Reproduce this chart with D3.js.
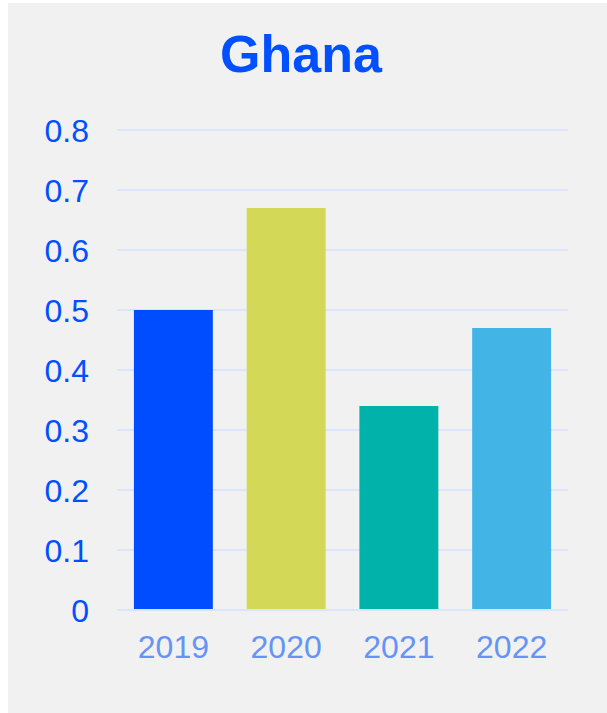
<!DOCTYPE html>
<html>
<head>
<meta charset="utf-8">
<script src="https://cdn.jsdelivr.net/npm/d3@7"></script>
<style>
  html, body { margin: 0; padding: 0; background: #ffffff; }
  svg { display: block; }
</style>
</head>
<body>
<script>
const title = "Ghana";
const categories = ["2019", "2020", "2021", "2022"];
const values = [0.5, 0.67, 0.34, 0.47];
const barColors = ["#004cff", "#d3d957", "#00b2aa", "#42b4e6"];
const yTicks = [0, 0.1, 0.2, 0.3, 0.4, 0.5, 0.6, 0.7, 0.8];

const W = 607, H = 713;
const svg = d3.select("body").append("svg").attr("width", W).attr("height", H);

svg.append("rect").attr("x", 8).attr("y", 3).attr("width", W - 8).attr("height", H - 3)
  .attr("fill", "#f1f1f1");

const x = d3.scaleBand().domain(categories).range([117, 568])
  .paddingInner(0.3).paddingOuter(0.15);
const y = d3.scaleLinear().domain([0, 0.8]).range([610, 130]);

svg.append("text").attr("x", 301).attr("y", 72).attr("text-anchor", "middle")
  .attr("font-family", "Liberation Sans, Arial, sans-serif")
  .attr("font-weight", "bold").attr("font-size", 52).attr("fill", "#0050ff")
  .text(title);

// gridlines
svg.append("g").selectAll("line").data(yTicks).join("line")
  .attr("x1", 117).attr("x2", 568)
  .attr("y1", d => y(d)).attr("y2", d => y(d))
  .attr("stroke", "#dbe5fa").attr("stroke-width", 2);

// y axis labels
const yAxis = d3.axisLeft(y).tickValues(yTicks).tickSize(0).tickPadding(0)
  .tickFormat(d => d === 0 ? "0" : d3.format(".1f")(d));
const gy = svg.append("g").attr("transform", "translate(89,0)").call(yAxis);
gy.select(".domain").remove();
gy.selectAll("text").attr("font-family", "Liberation Sans, Arial, sans-serif")
  .attr("font-size", 32).attr("fill", "#0050ff").attr("dy", "0.36em").attr("x", 0);

// bars
svg.append("g").selectAll("rect").data(categories).join("rect")
  .attr("x", d => x(d)).attr("width", x.bandwidth())
  .attr("y", (d, i) => y(values[i])).attr("height", (d, i) => y(0) - 1 - y(values[i]))
  .attr("fill", (d, i) => barColors[i]);

// x axis labels
const xAxis = d3.axisBottom(x).tickSize(0).tickPadding(0);
const gx = svg.append("g").attr("transform", "translate(0,610)").call(xAxis);
gx.select(".domain").remove();
gx.selectAll("text").attr("font-family", "Liberation Sans, Arial, sans-serif")
  .attr("font-size", 32).attr("fill", "#6694f5").attr("dy", null).attr("y", 48);
</script>
</body>
</html>
